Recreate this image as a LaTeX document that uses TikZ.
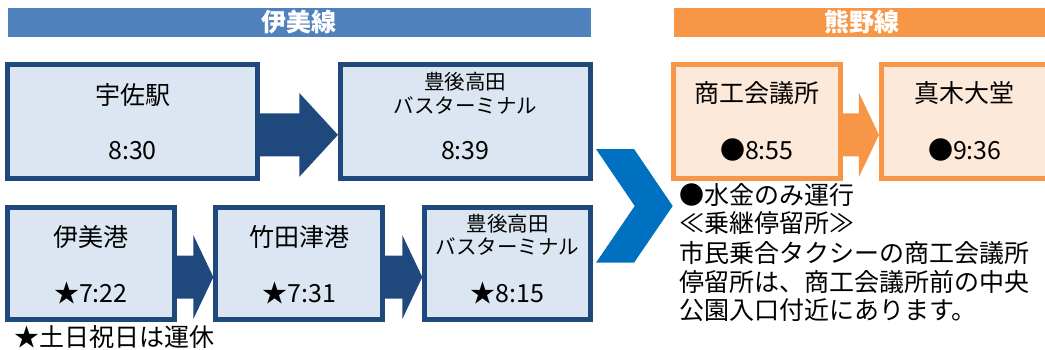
\documentclass[tikz,border=0pt]{standalone}
\usepackage{fontspec}
\setmainfont{Noto Sans CJK JP}
\usepackage{tikz}
\usetikzlibrary{calc}

\definecolor{imiblue}{HTML}{4F81BD}
\definecolor{imidark}{HTML}{1F497D}
\definecolor{imifill}{HTML}{DCE6F2}
\definecolor{chevblue}{HTML}{0070C0}
\definecolor{kumaorange}{HTML}{F79646}
\definecolor{kumafill}{HTML}{FDE9D9}

% block arrow: colour, from node, to node, head length
\newcommand{\blockarrow}[4]{%
  \fill [#1] let \p1=(#2.east), \p2=(#3.west) in
    (\x1,{\y1-13.5+21.5}) -- ({\x2-#4},{\y1-13.5+21.5}) -- ({\x2-#4},{\y1-13.5+42})
    -- (\x2,{\y1-13.5}) -- ({\x2-#4},{\y1-13.5-42}) -- ({\x2-#4},{\y1-13.5-21.5})
    -- (\x1,{\y1-13.5-21.5}) -- cycle;}

\begin{document}
\begin{tikzpicture}[x=1pt,y=1pt,
  header/.style={minimum height=28.7pt, text=white, font=\bfseries\fontsize{25}{30}\selectfont, text height=22pt, text depth=3pt},
  imibox/.style={draw=imidark, fill=imifill, line width=5pt},
  kumabox/.style={draw=kumaorange, fill=kumafill, line width=5pt},
  stoptext/.style={font=\fontsize{25}{30}\selectfont, text height=22pt, text depth=3pt},
  longtext/.style={font=\fontsize{20.5}{23.5}\selectfont, align=center},
  notetext/.style={anchor=west, font=\fontsize{25}{30}\selectfont, text height=22pt, text depth=3pt}]
\tikzstyle{every node}+=[inner sep=0pt]
\useasboundingbox (0,0) rectangle (1045,-349);

% line headers
\node [header, fill=imiblue, minimum width=582.7pt] (imiline) at (299.3,-22.3) {伊美線};
\node [header, fill=kumaorange, minimum width=375pt] (kumaline) at (861.5,-22.3) {熊野線};

% upper row
\node [imibox, minimum width=250pt, minimum height=113.7pt] (usa) at (132.5,-121.4) {};
\node [stoptext] (usaname) at (132.5,-95) {宇佐駅};
\node [stoptext] (usatime) at (132.5,-150) {8:30};
\node [imibox, minimum width=249.7pt, minimum height=113.7pt] (bungoa) at (465.3,-121.4) {};
\node [longtext] (bungoaname) at (465.3,-93.4) {豊後高田\\バスターミナル};
\node [stoptext] (bungoatime) at (465.3,-150) {8:39};
\blockarrow{imidark}{usa}{bungoa}{38.7}

% lower row
\node [imibox, minimum width=166.7pt, minimum height=112.3pt] (imi) at (90.8,-263.6) {};
\node [stoptext] (iminame) at (90.8,-236.7) {伊美港};
\node [stoptext] (imitime) at (90.8,-293) {★7:22};
\node [imibox, minimum width=166.7pt, minimum height=112.3pt] (takeda) at (299.2,-263.6) {};
\node [stoptext] (takedaname) at (299.2,-236.7) {竹田津港};
\node [stoptext] (takedatime) at (299.2,-293) {★7:31};
\node [imibox, minimum width=165.4pt, minimum height=112.3pt] (bungob) at (507.5,-263.6) {};
\node [longtext] (bungobname) at (507.5,-235) {豊後高田\\バスターミナル};
\node [stoptext] (bungobtime) at (507.5,-293) {★8:15};
\blockarrow{imidark}{imi}{takeda}{20}
\blockarrow{imidark}{takeda}{bungob}{20}
\node [notetext] (holiday) at (14,-336.7) {★土日祝日は運休};

% transfer chevron
\fill [chevblue] (596,-149) -- (634,-149) -- (672.7,-206) -- (634,-262.7) -- (596,-262.7) -- (634.7,-206) -- cycle;

% Kumano line
\node [kumabox, minimum width=166.7pt, minimum height=113.7pt] (shoko) at (756.9,-121.4) {};
\node [stoptext] (shokoname) at (756.9,-93) {商工会議所};
\node [stoptext] (shokotime) at (756.9,-150) {●8:55};
\node [kumabox, minimum width=166.7pt, minimum height=113.7pt] (maki) at (964.8,-121.4) {};
\node [stoptext] (makiname) at (964.8,-93) {真木大堂};
\node [stoptext] (makitime) at (964.8,-150) {●9:36};
\blockarrow{kumaorange}{shoko}{maki}{20}

% notes
\node [notetext] (notea) at (679,-195) {●水金のみ運行};
\node [notetext] (noteb) at (679,-223.3) {≪乗継停留所≫};
\node [notetext] (notec) at (679,-253.3) {市民乗合タクシーの商工会議所};
\node [notetext] (noted) at (679,-281.7) {停留所は、商工会議所前の中央};
\node [notetext] (notee) at (679,-310) {公園入口付近にあります。};
\end{tikzpicture}
\end{document}
